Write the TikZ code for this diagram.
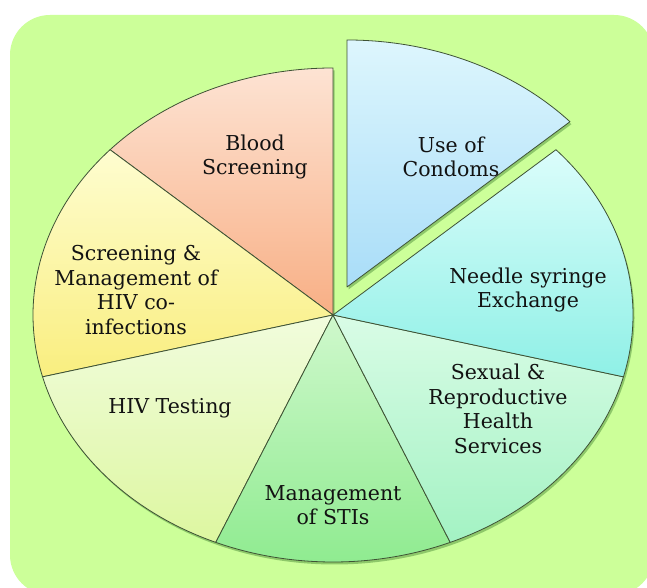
\documentclass[tikz,border=0pt]{standalone}
\usepackage{fontspec}
\setmainfont{DejaVu Serif}
\usepackage{tikz}
\usetikzlibrary{calc}
\definecolor{bgGreen}{RGB}{204,255,153}
\definecolor{rimLine}{RGB}{62,82,52}
\definecolor{labelInk}{RGB}{18,18,18}
\definecolor{bloodTop}{RGB}{253,227,211}
\definecolor{bloodBot}{RGB}{248,175,133}
\definecolor{coinfTop}{RGB}{254,253,208}
\definecolor{coinfBot}{RGB}{249,238,127}
\definecolor{testTop}{RGB}{241,252,221}
\definecolor{testBot}{RGB}{221,247,160}
\definecolor{stisTop}{RGB}{207,248,204}
\definecolor{stisBot}{RGB}{142,235,143}
\definecolor{sexTop}{RGB}{217,252,230}
\definecolor{sexBot}{RGB}{163,242,195}
\definecolor{needTop}{RGB}{219,253,251}
\definecolor{needBot}{RGB}{143,240,230}
\definecolor{condTop}{RGB}{221,246,253}
\definecolor{condBot}{RGB}{169,221,248}
\tikzstyle{slice}=[draw=rimLine, line width=0.8pt, line join=round]
\tikzstyle{lbl}=[align=center, text=labelInk, inner sep=1pt, font=\fontsize{20.5}{24.5}\selectfont]
\tikzstyle{shadowfill}=[fill=black!70!green, opacity=0.3]
\def\rx{300}
\def\ry{247}

\begin{document}
\begin{tikzpicture}[x=1pt, y=1pt]
      \useasboundingbox (0,0) rectangle (647,588);
      \clip (0,0) rectangle (647,588);
      \fill [white] (0,0) rectangle (647,588);
      \fill [bgGreen, rounded corners=40pt] (10,-7) rectangle (654,573);
      \coordinate (C) at (333,273);
      \coordinate (E) at (347,301);
      \coordinate (Cs) at ($(C)+(1.5,-2.5)$);
      \coordinate (Es) at ($(E)+(1.5,-2.5)$);
      % soft shadows
      \path [shadowfill] (Cs) -- ++(90:\rx pt and \ry pt)
            arc [start angle=90, end angle=402, x radius=\rx, y radius=\ry] -- cycle;
      \path [shadowfill] (Es) -- ++(42:\rx pt and \ry pt)
            arc [start angle=42, end angle=90, x radius=\rx, y radius=\ry] -- cycle;
      % slices
      \foreach \a/\b/\c in {90/138/blood, 138/194.5/coinf, 194.5/247/test,
                            247/293/stis, 293/345.5/sex, 345.5/402/need}
        \shade [slice, top color=\c Top, bottom color=\c Bot] (C) -- ++(\a:\rx pt and \ry pt)
               arc [start angle=\a, end angle=\b, x radius=\rx, y radius=\ry] -- cycle;
      \shade [slice, top color=condTop, bottom color=condBot]
             (E) -- ++(42:\rx pt and \ry pt)
             arc [start angle=42, end angle=90, x radius=\rx, y radius=\ry] -- cycle;
      % labels
      \node [lbl] (condoms) at (451,431) {Use of\\Condoms};
      \node [lbl] (blood) at (255,431) {Blood\\Screening};
      \node [lbl] (needle) at (528,298) {Needle syringe\\Exchange};
      \node [lbl] (coinf) at (136,298) {Screening \&\\Management of\\HIV co-\\infections};
      \node [lbl] (sexual) at (498,179) {Sexual \&\\Reproductive\\Health\\Services};
      \node [lbl] (hivtest) at (170,180) {HIV Testing};
      \node [lbl] (stis) at (333,83) {Management\\of STIs};
\end{tikzpicture}
\end{document}
